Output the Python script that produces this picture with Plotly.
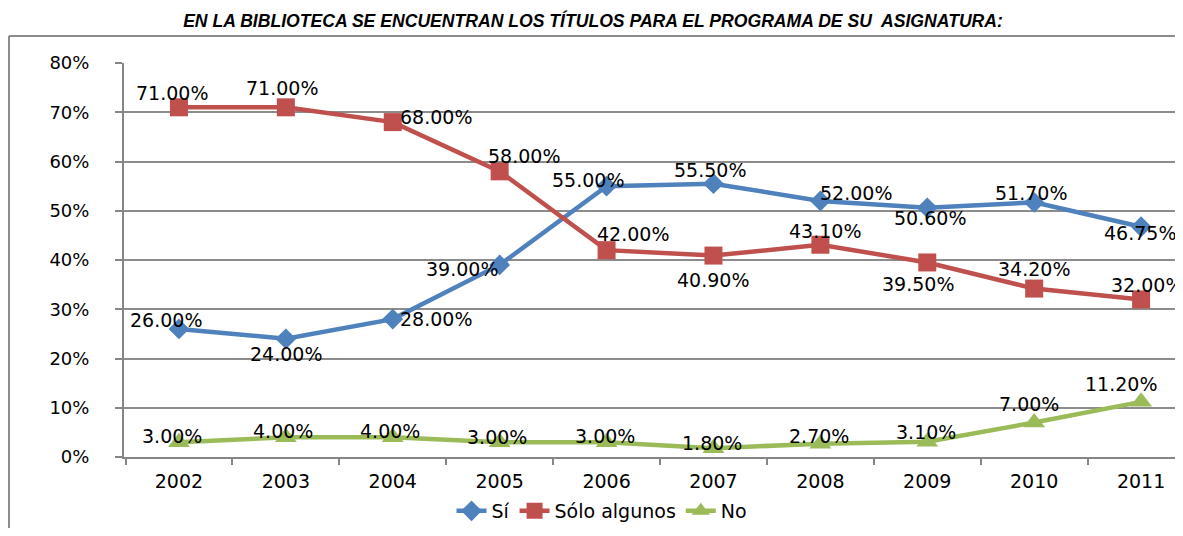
import plotly.graph_objects as go

years = ["2002", "2003", "2004", "2005", "2006", "2007", "2008", "2009", "2010", "2011"]
si = [26.00, 24.00, 28.00, 39.00, 55.00, 55.50, 52.00, 50.60, 51.70, 46.75]
solo = [71.00, 71.00, 68.00, 58.00, 42.00, 40.90, 43.10, 39.50, 34.20, 32.00]
no = [3.00, 4.00, 4.00, 3.00, 3.00, 1.80, 2.70, 3.10, 7.00, 11.20]
y_ticks = [0, 10, 20, 30, 40, 50, 60, 70, 80]

title = "EN LA BIBLIOTECA SE ENCUENTRAN LOS TÍTULOS PARA EL PROGRAMA DE SU  ASIGNATURA:"

BLUE = "#4F81BD"
RED = "#C0504D"
GREEN = "#9BBB59"
FONT = "DejaVu Sans"
LBL = 19

# label offsets in pixels (dx, dy up)
off_si = [(-13, 9), (0, -15), (43, 0), (-38, -4), (-19, 6), (-3, 14), (36, 8), (3, -10), (-3, 9), (-1, -6)]
off_solo = [(-7, 14), (-4, 19), (43, 5), (24, 15), (26, 16), (0, -24), (5, 14), (-9, -22), (0, 20), (6, 14)]
off_no = [(-7, 6), (-3, 6), (-3, 6), (-3, 5), (-2, 6), (-1, 5), (-1, 8), (-1, 10), (-5, 19), (-20, 18)]

fig = go.Figure()
series = [
    ("Sí", si, BLUE, "diamond", 16, off_si),
    ("Sólo algunos", solo, RED, "square", 18, off_solo),
    ("No", no, GREEN, "triangle-up", 19, off_no),
]
annotations = []
for name, vals, col, sym, msize, offs in series:
    fig.add_trace(go.Scatter(
        x=years, y=vals, name=name, mode="lines+markers",
        line=dict(color=col, width=4.5),
        marker=dict(symbol=sym, size=msize, color=col),
    ))
    for i, (v, (dx, dy)) in enumerate(zip(vals, offs)):
        annotations.append(dict(
            x=i, y=v, xref="x", yref="y", text=f"{v:.2f}%", showarrow=False,
            xshift=dx, yshift=dy, font=dict(family=FONT, size=LBL, color="black"),
        ))

# page is offset by 8px body margin; design coordinates below are page - 8
W, H = 1175, 520
L, R, T, B = 116, 0, 55, 71
pw, ph = W - L - R, H - T - B
fy1 = (H - B - 28) / ph
fx0 = (1 - L) / pw
FRAME = dict(color="#8c8c8c", width=2)

fig.update_layout(
    width=W, height=H,
    margin=dict(l=L, r=R, t=T, b=B, autoexpand=False),
    paper_bgcolor="white", plot_bgcolor="white",
    title=dict(text=title, x=(585 - L) / pw, xref="paper", xanchor="center",
               y=1 - 13 / H, yanchor="middle",
               font=dict(family="Liberation Sans Narrow, Arial Narrow, Liberation Sans", size=17.6,
                         color="black", weight="bold", style="italic")),
    xaxis=dict(type="category", range=[-0.514, 9.392], showgrid=False,
               showline=True, linecolor="#868686", linewidth=2,
               ticks="outside", tickson="boundaries", ticklen=6, tickcolor="#868686", tickwidth=2,
               ticklabelstandoff=6,
               tickfont=dict(family=FONT, size=LBL, color="black")),
    yaxis=dict(range=[0, 80], tickvals=y_ticks, ticktext=[f"{t}%" for t in y_ticks],
               showgrid=True, gridcolor="#8c8c8c", gridwidth=1.5,
               showline=True, linecolor="#868686", linewidth=2,
               ticks="outside", ticklen=7, tickcolor="#868686", tickwidth=2,
               ticklabelstandoff=22,
               tickfont=dict(family=FONT, size=18, color="black"), zeroline=False),
    legend=dict(orientation="h", x=(594 - L) / pw, xanchor="center",
                y=(H - B - 503) / ph, yanchor="middle",
                font=dict(family=FONT, size=LBL, color="black")),
    annotations=annotations,
    shapes=[
        dict(type="line", xref="paper", yref="paper", x0=fx0, x1=1.05, y0=fy1, y1=fy1, line=FRAME),
        dict(type="line", xref="paper", yref="paper", x0=fx0, x1=fx0, y0=-0.3, y1=fy1, line=FRAME),
    ],
    showlegend=True,
)

fig.write_html("out.html")
